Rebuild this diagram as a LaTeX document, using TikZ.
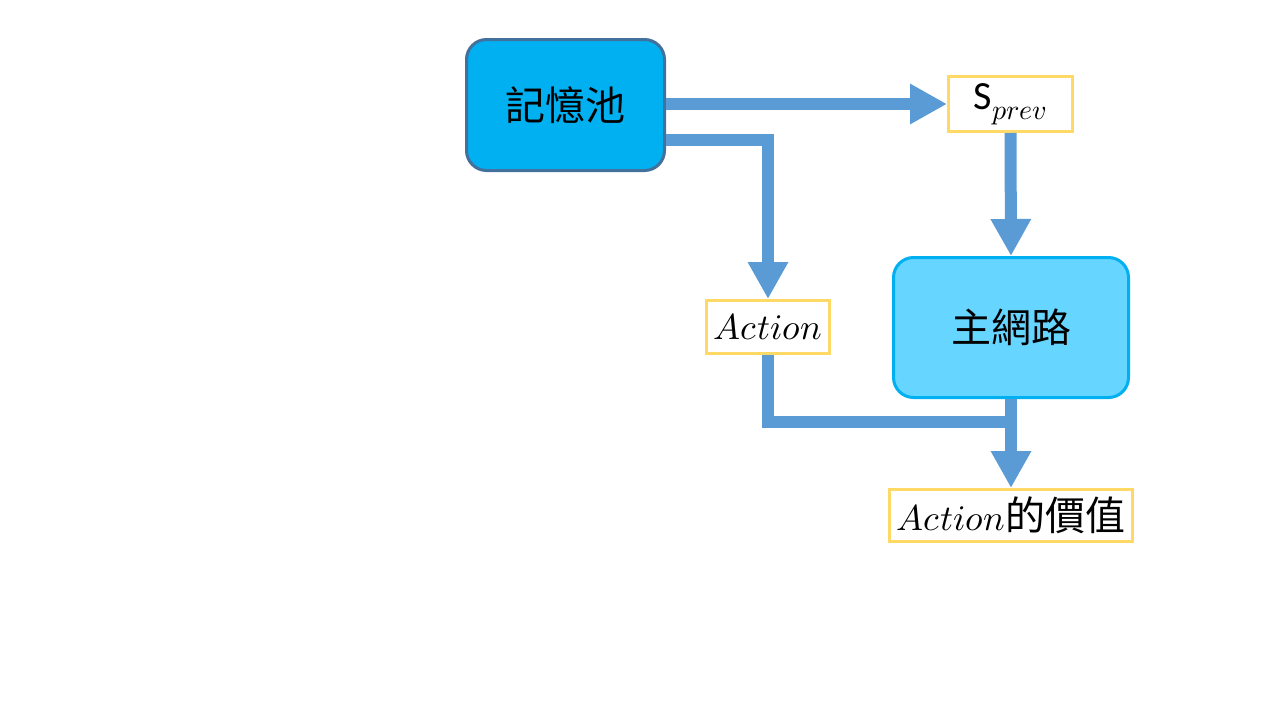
\documentclass[tikz,border=0pt]{standalone}
\usepackage{fontspec}
\usepackage{unicode-math}
\setmainfont{Carlito}
\setmathfont{Latin Modern Math}
\newfontfamily\cjk{Noto Sans CJK TC}
\usetikzlibrary{arrows.meta}
\definecolor{memfill}{HTML}{00B0F0}
\definecolor{memline}{HTML}{41719C}
\definecolor{mainfill}{HTML}{66D5FF}
\definecolor{mainline}{HTML}{00B0F0}
\definecolor{ybox}{HTML}{FFD966}
\definecolor{arr}{HTML}{5B9BD5}
\begin{document}
\begin{tikzpicture}[x=1pt,y=-1pt,
  bigbox/.style={rounded corners=20pt, line width=3pt, inner sep=0pt, font=\cjk\fontsize{40}{44}\selectfont},
  ylabel/.style={draw=ybox, fill=white, line width=3pt, inner sep=0pt, font=\fontsize{36}{40}\selectfont},
  flow/.style={draw=arr, line width=12pt, -{Triangle[length=37pt,width=38pt]}},
  flowplain/.style={draw=arr, line width=12pt}]
\useasboundingbox (0,0) rectangle (1280,720);
\node[bigbox, fill=memfill, draw=memline, minimum width=198pt, minimum height=131pt] (mem) at (565.5,105) {記憶池};
\node[ylabel, minimum width=124pt, minimum height=55pt, font=\fontsize{40}{44}\selectfont] (sprev) at (1010.5,104) {S$_{prev}$};
\node[ylabel, minimum width=123pt, minimum height=53pt] (action) at (768,327) {$Action$};
\node[bigbox, fill=mainfill, draw=mainline, minimum width=235pt, minimum height=140pt] (main) at (1011,327.5) {主網路};
\node[ylabel, minimum width=243pt, minimum height=52pt] (value) at (1011,515.5) {$Action${\cjk\fontsize{40}{44}\selectfont 的價值}};
\coordinate (j) at (1017,422);
\draw[flow] (mem.east |- sprev.west) -- (sprev.west);
\draw[flow] ([yshift=-35pt]mem.east) -| (action.north);
\draw[flow] (sprev.south) -- (main.north);
\draw[flowplain] (action.south) |- (j);
\draw[flow] (main.south) -- (value.north);
\end{tikzpicture}
\end{document}
